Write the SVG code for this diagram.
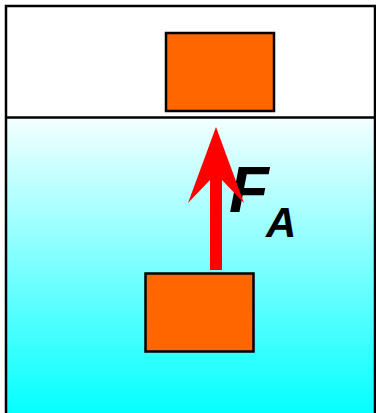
<svg xmlns="http://www.w3.org/2000/svg" width="376" height="413" viewBox="0 0 376 413">
<defs>
<linearGradient id="water" x1="0" y1="0" x2="0" y2="1">
<stop offset="0" stop-color="#f4ffff"/>
<stop offset="1" stop-color="#00ffff"/>
</linearGradient>
<style>
.box{fill:#ff6600;stroke:#000;stroke-width:2.5}
.lbl{font-family:"Liberation Sans",Arial,sans-serif;font-weight:bold;font-style:italic;fill:#000}
</style>
</defs>
<rect x="0" y="0" width="376" height="413" fill="#fff"/>
<rect id="water-area" x="6" y="117" width="370" height="300" fill="url(#water)"/>
<path d="M6,420 V6 H375 V420" fill="none" stroke="#000" stroke-width="2.5"/>
<line x1="6" y1="117.5" x2="376" y2="117.5" stroke="#000" stroke-width="2.5"/>
<g id="box-top"><rect class="box" x="166" y="33" width="108" height="78"/></g>
<g id="box-bottom"><rect class="box" x="145.5" y="273.5" width="108" height="78"/></g>
<g id="label">
<text class="lbl" x="229" y="212" font-size="65">F</text>
<text class="lbl" x="266" y="237" font-size="42">A</text>
</g>
<g id="connectors">
<path d="M210,270 V180 L188,203 L216,127 L244,203 L222,180 V270 Z" fill="#ff0000"/>
</g>
</svg>
